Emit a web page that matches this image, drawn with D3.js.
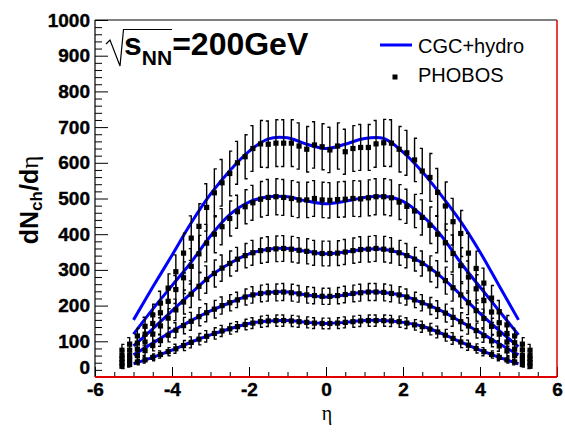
<!DOCTYPE html>
<html><head><meta charset="utf-8">
<script src="https://cdn.jsdelivr.net/npm/d3@7"></script>
<style>body{margin:0;background:#fff}svg{display:block}</style>
</head><body><svg id="c" width="565" height="433"></svg>
<script>
// ---- data ----
const etaBins = [-5.3,-5.1,-4.9,-4.7,-4.5,-4.3,-4.1,-3.9,-3.7,-3.5,-3.3,-3.1,-2.9,-2.7,-2.5,-2.3,-2.1,-1.9,-1.7,-1.5,-1.3,-1.1,-0.9,-0.7,-0.5,-0.3,-0.1,
  0.1,0.3,0.5,0.7,0.9,1.1,1.3,1.5,1.7,1.9,2.1,2.3,2.5,2.7,2.9,3.1,3.3,3.5,3.7,3.9,4.1,4.3,4.5,4.7,4.9,5.1,5.3];
const phobos_0_6 = [75,92,115,142,174,207,249,295,347,389,422,475,516,544,570,600,617,640,653,652,655,655,655,647,638,650,645,
  636,647,631,640,643,643,653,656,655,638,628,608,577,559,517,479,435,402,347,304,263,221,183,146,115,92,75];
const phobos_6_15 = [60,75,95,120,150,180,212,245,278,310,345,375,400,421,444,463,477,488,498,503,505,503,500,496,496,500,496,
  495,497,498,500,499,502,505,505,502,490,478,465,447,425,400,376,346,312,280,247,214,182,152,122,96,76,60];
const phobos_15_25 = [50,60,78,98,120,143,165,188,210,232,254,273,290,305,318,330,340,348,354,357,359,360,358,355,352,348,346,
  346,347,350,354,357,358,360,358,355,348,340,330,318,303,288,270,250,230,208,186,164,142,120,98,78,60,50];
const phobos_25_35 = [40,48,60,74,88,102,117,131,144,156,169,180,190,200,208,216,224,230,234,236,237,238,236,233,230,228,226,
  226,228,231,234,236,238,238,237,234,230,224,216,208,199,189,179,167,155,143,130,116,101,87,73,60,48,40];
const phobos_35_45 = [30,35,42,48,55,63,71,79,88,97,106,114,122,129,135,141,147,151,155,157,158,158,157,155,153,151,150,
  150,151,153,155,157,158,158,158,157,155,151,146,141,134,126,117,108,98,89,80,71,63,55,48,42,35,30];
// relative systematic error per eta bin
const errFrac = [0.22,0.20,0.19,0.18,0.17,0.16,0.16,0.16,0.16,0.16,0.15,0.14,0.13,0.12,0.11,0.10,0.10,0.10,0.10,0.10,0.10,0.10,0.10,0.10,0.10,0.10,0.10,
  0.10,0.10,0.10,0.10,0.10,0.10,0.10,0.10,0.10,0.10,0.10,0.10,0.11,0.12,0.13,0.14,0.15,0.16,0.16,0.16,0.16,0.16,0.17,0.18,0.19,0.20,0.22];

const modelEta = [-5,-4.5,-4,-3.5,-3,-2.5,-2,-1.5,-1,-0.5,0,0.5,1,1.5,2,2.5,3,3.5,4,4.5,5];
const cgc_0_6   = [160,252,341,432,512,578,632,667,670,652,640,652,668,668,630,575,508,435,350,255,160];
const cgc_6_15  = [120,190,256,322,395,455,490,505,505,493,485,492,503,506,492,452,395,320,252,185,118];
const cgc_15_25 = [87,135,185,235,283,318,345,358,360,352,345,350,358,358,345,320,280,230,178,130,85];
const cgc_25_35 = [62,95,128,158,185,208,228,237,238,230,224,230,238,237,228,208,185,155,125,93,62];
const cgc_35_45 = [37,55,75,98,118,135,150,157,158,153,150,153,158,158,153,142,122,98,75,55,37];

const xTicks = [-6,-4,-2,0,2,4,6];
const xTickLabels = ["-6","-4","-2","0","2","4","6"];
const yTicks = [0,100,200,300,400,500,600,700,800,900,1000];
const yTickLabels = ["0","100","200","300","400","500","600","700","800","900","1000"];
const legendLabels = ["CGC+hydro","PHOBOS"];

// ---- drawing ----
const svg = d3.select("#c");
const x = d3.scaleLinear().domain([-6,6]).range([95,557]);
const y = d3.scaleLinear().domain([0,1000]).range([377,20]);
const FONT = "'Liberation Sans', Arial, Helvetica, sans-serif";

svg.append("rect").attr("width",565).attr("height",433).attr("fill","#fff");

// model curves
const models = [cgc_0_6,cgc_6_15,cgc_15_25,cgc_25_35,cgc_35_45];
const line = d3.line().x(d=>x(d[0])).y(d=>y(d[1])).curve(d3.curveCatmullRom.alpha(0.5));
svg.append("g").selectAll("path").data(models).join("path")
  .attr("d", m => line(modelEta.map((e,i)=>[e,m[i]])))
  .attr("fill","none").attr("stroke","#0000ff").attr("stroke-width",3);

// data
const sets = [phobos_0_6,phobos_6_15,phobos_15_25,phobos_25_35,phobos_35_45];
const gd = svg.append("g");
sets.forEach(s => {
  s.forEach((v,i) => {
    const e = v*errFrac[i];
    const cx = x(etaBins[i]);
    const y0 = y(v-e), y1 = y(v+e);
    const side = (i%2===0) ? 2.5 : -2.5;
    gd.append("path")
      .attr("d", `M${cx+side},${y1}H${cx}V${y0}H${cx+side}`)
      .attr("fill","none").attr("stroke","#000").attr("stroke-width",1.4);
    gd.append("rect").attr("x",cx-2.6).attr("y",y(v)-2.6).attr("width",5.2).attr("height",5.2).attr("fill","#000");
  });
});

// axes
const yMinor = d3.range(0,1001,20).filter(v=>v%100!==0);
const xMinor = d3.range(-6,6.01,0.5).filter(v=>Math.abs(v%2)>1e-6);
const gy = svg.append("g").attr("transform","translate(95,0)");
gy.call(d3.axisLeft(y).tickValues(yMinor).tickSize(-7).tickFormat(""));
const gy2 = svg.append("g").attr("transform","translate(95,0)");
gy2.call(d3.axisLeft(y).tickValues(yTicks).tickSize(-13).tickPadding(5).tickFormat((d,i)=>yTickLabels[i]));
const gx = svg.append("g").attr("transform","translate(0,377)");
gx.call(d3.axisBottom(x).tickValues(xMinor).tickSize(-5).tickFormat(""));
const gx2 = svg.append("g").attr("transform","translate(0,377)");
gx2.call(d3.axisBottom(x).tickValues(xTicks).tickSize(-10).tickPadding(6).tickFormat((d,i)=>xTickLabels[i]));
[gy,gy2,gx,gx2].forEach(g=>{
  g.select(".domain").remove();
  g.selectAll("line").attr("stroke","#000").attr("stroke-width",1);
  g.selectAll("text").attr("font-family",FONT).attr("font-weight","bold").attr("font-size",19)
    .attr("fill","#000").attr("stroke","#000").attr("stroke-width",0.4);
});
gy2.selectAll("text").filter(d=>d===0).attr("transform","translate(0,-10)");

// frame
svg.append("line").attr("x1",95).attr("x2",557).attr("y1",20).attr("y2",20).attr("stroke","#000").attr("stroke-width",1);
svg.append("line").attr("x1",95).attr("x2",95).attr("y1",20).attr("y2",377).attr("stroke","#000").attr("stroke-width",1.2);
svg.append("line").attr("x1",557).attr("x2",557).attr("y1",20).attr("y2",377).attr("stroke","#e00000").attr("stroke-width",1.5);
svg.append("line").attr("x1",95).attr("x2",557).attr("y1",377).attr("y2",377).attr("stroke","#e00000").attr("stroke-width",2);

// axis titles
const yt = svg.append("text").attr("transform","translate(38,200) rotate(-90)")
  .attr("text-anchor","middle").attr("font-family",FONT).attr("font-weight","bold").attr("font-size",25);
yt.append("tspan").text("dN");
yt.append("tspan").attr("font-size",17).attr("dy",4).text("ch");
yt.append("tspan").attr("dy",-4).text("/d");
yt.append("tspan").attr("font-weight","normal").attr("font-family","'Liberation Serif', serif").text("η");

svg.append("text").attr("x",327).attr("y",420).attr("text-anchor","middle")
  .attr("font-family","'Liberation Serif', serif").attr("font-size",20).text("η");

// energy label
svg.append("path").attr("d","M106,44 L110,40 L120,66 L123.5,29.5 L172,29.5")
  .attr("fill","none").attr("stroke","#000").attr("stroke-width",1.2);
const tt = svg.append("text").attr("x",124).attr("y",55).attr("font-family",FONT).attr("font-weight","bold").attr("font-size",32);
tt.append("tspan").text("s");
tt.append("tspan").attr("font-size",21).attr("dy",10).text("NN");
tt.append("tspan").attr("dy",-10).text("=200GeV");

// legend
svg.append("line").attr("x1",380).attr("x2",412).attr("y1",45).attr("y2",45).attr("stroke","#0000ff").attr("stroke-width",3);
svg.append("rect").attr("x",392.5).attr("y",74.5).attr("width",5).attr("height",5).attr("fill","#000");
svg.append("text").attr("x",418).attr("y",53).attr("font-family",FONT).attr("font-size",20).text(legendLabels[0]);
svg.append("text").attr("x",418).attr("y",82).attr("font-family",FONT).attr("font-size",20).text(legendLabels[1]);
</script>
</body></html>
